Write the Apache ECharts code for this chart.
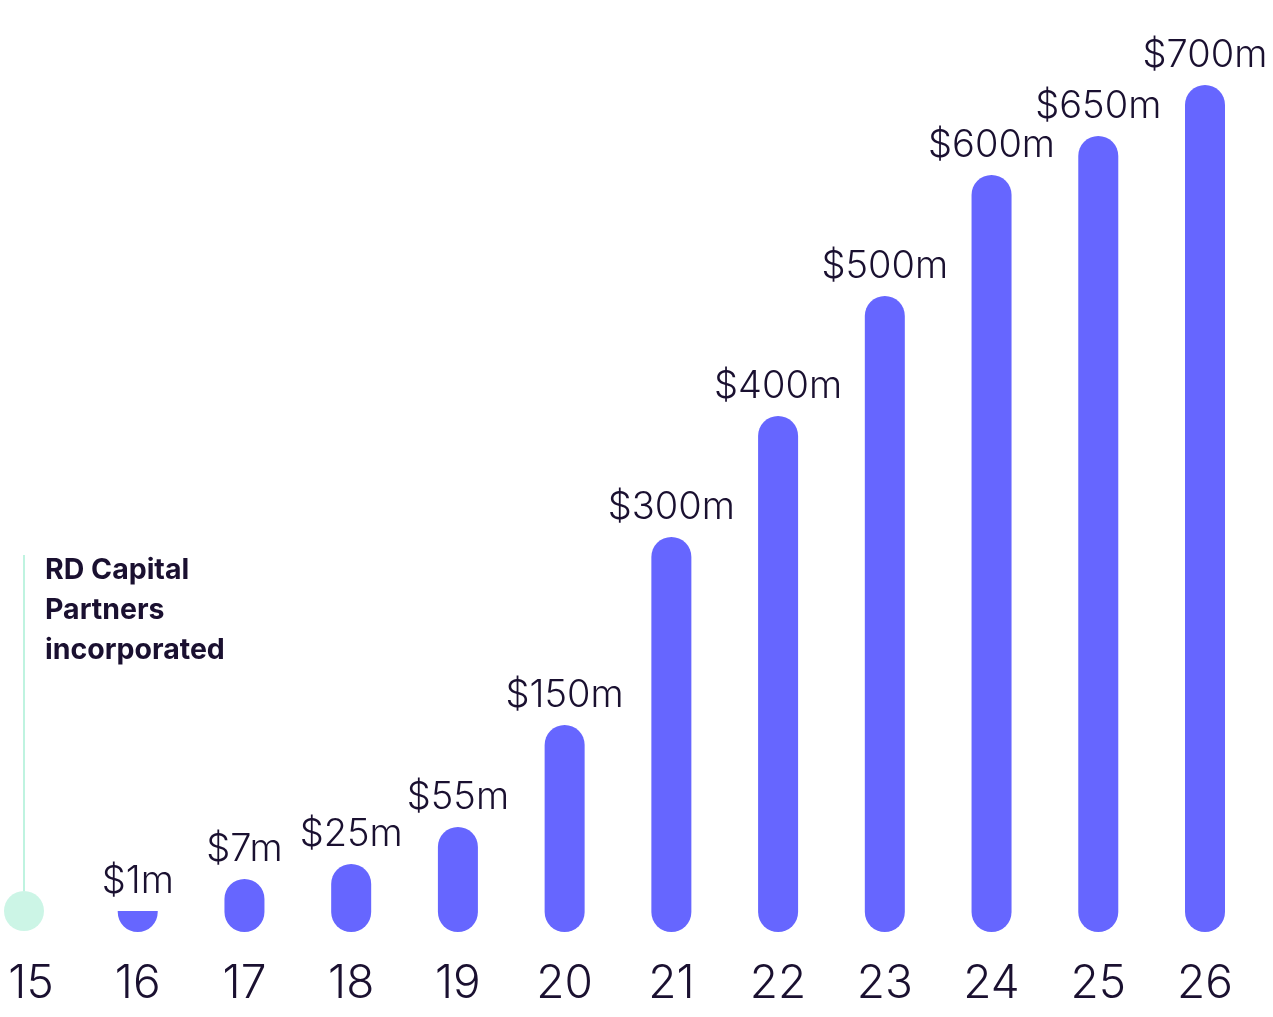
<!DOCTYPE html>
<html>
<head>
<meta charset="utf-8">
<script src="https://cdn.jsdelivr.net/npm/echarts@6/dist/echarts.min.js"></script>
<style>
html,body{margin:0;padding:0;background:#ffffff;}
#chart{width:1273px;height:1017px;}
</style>
</head>
<body>
<div id="chart"></div>
<script>
// Year labels (x axis)
const years = ['15','16','17','18','19','20','21','22','23','24','25','26'];
// Value labels shown above each bar (index 0 = 2015 milestone, no bar)
const valueLabels = ['', '$1m', '$7m', '$25m', '$55m', '$150m', '$300m', '$400m', '$500m', '$600m', '$650m', '$700m'];
// Visual bar lengths as drawn in the picture (not to scale with the dollar labels)
const barLengths = [null, 21, 53, 68, 105, 207, 395, 516, 636, 757, 796, 847];
// Milestone marker at year 15
const milestoneValue = [21];
const milestoneLine = [377, 41];
const milestoneText = 'RD Capital\nPartners\nincorporated';

const textColor = '#1a1030';
const barColor = '#6666ff';
const mint = '#bff3e0';
const fontFamily = 'Inter, Lato, "Noto Sans", sans-serif';

const chart = echarts.init(document.getElementById('chart'), null, {renderer: 'canvas'});

const barData = barLengths.map((v, i) => {
  if (v === null) return '-';
  if (i === 1) return {value: v, itemStyle: {borderRadius: [0, 0, 20, 20]}};
  return v;
});

chart.setOption({
  animation: false,
  backgroundColor: '#ffffff',
  grid: {left: 31, right: 68, top: 32, bottom: 85, containLabel: false},
  xAxis: {
    type: 'category',
    data: years,
    boundaryGap: false,
    axisLine: {show: false},
    axisTick: {show: false},
    splitLine: {show: false},
    axisLabel: {
      color: textColor,
      fontSize: 46,
      fontFamily: fontFamily,
      fontWeight: 300,
      margin: 29,
      interval: 0
    }
  },
  yAxis: {
    type: 'value',
    min: 0,
    max: 900,
    show: false
  },
  series: [
    {
      type: 'custom',
      data: [[years[0], milestoneLine[0], milestoneLine[1]]],
      clip: false,
      silent: true,
      z: 1,
      renderItem: function (params, api) {
        const p1 = api.coord([api.value(0), api.value(1)]);
        const p2 = api.coord([api.value(0), api.value(2)]);
        return {
          type: 'line',
          shape: {x1: p1[0] - 7, y1: p1[1], x2: p2[0] - 7, y2: p2[1]},
          style: {stroke: mint, lineWidth: 2}
        };
      }
    },
    {
      type: 'scatter',
      data: milestoneValue.map(v => [years[0], v]),
      symbolSize: 40,
      symbolOffset: [-7, 0],
      itemStyle: {color: mint},
      clip: false,
      z: 2
    },
    {
      type: 'bar',
      data: barData,
      barWidth: 40,
      clip: false,
      itemStyle: {color: barColor, borderRadius: 20},
      label: {
        show: true,
        position: 'top',
        distance: 10,
        color: textColor,
        fontSize: 38,
        fontFamily: fontFamily,
        fontWeight: 300,
        formatter: p => valueLabels[p.dataIndex]
      },
      z: 3
    }
  ],
  graphic: [
    {
      type: 'text',
      left: 45,
      top: 550,
      style: {
        text: milestoneText,
        font: 'bold 28.5px ' + fontFamily,
        fill: textColor,
        lineHeight: 40
      }
    }
  ]
});
</script>
</body>
</html>
